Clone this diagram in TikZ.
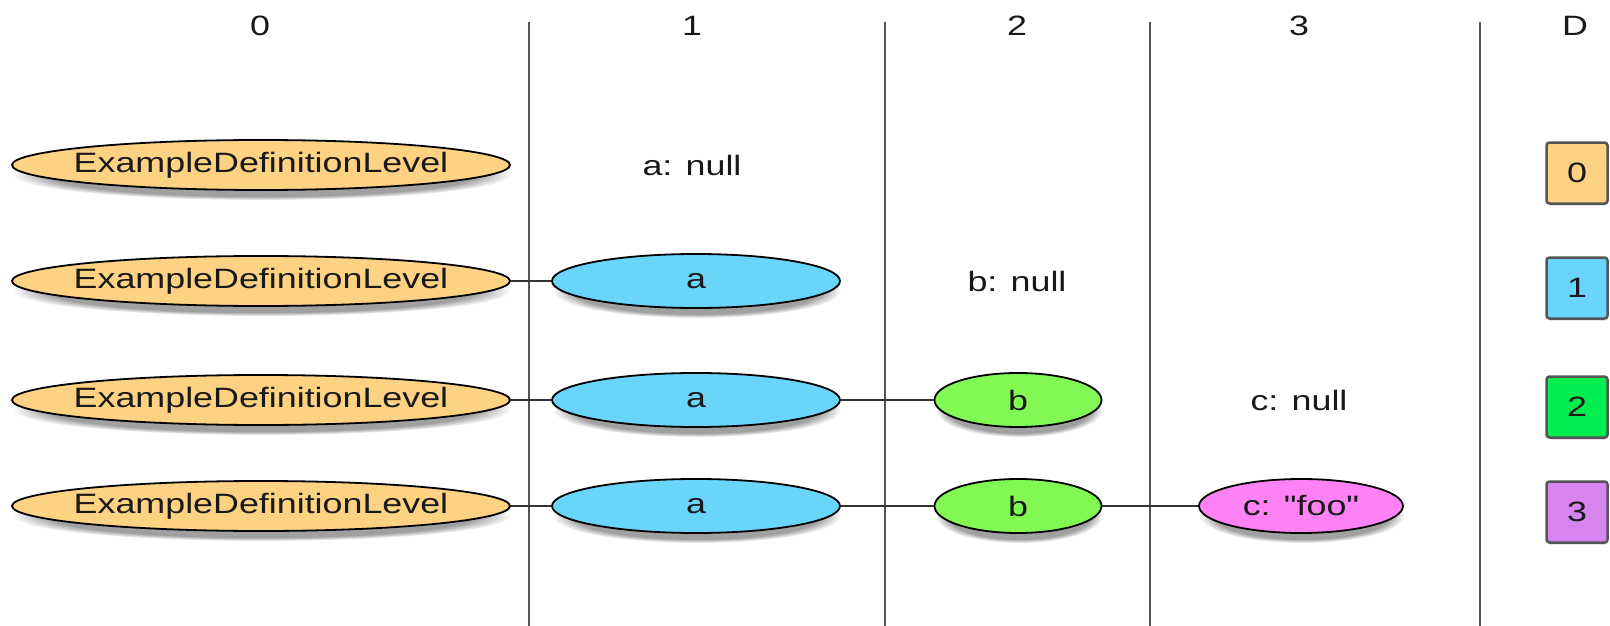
\documentclass[tikz,border=0pt]{standalone}
\usepackage{fontspec}
\setmainfont[FakeStretch=1.28,Ligatures=TeXOff]{Liberation Sans}
\usetikzlibrary{shapes.geometric,shadows,fadings}
\definecolor{orng}{HTML}{FDD283}
\definecolor{blu}{HTML}{6AD5FA}
\definecolor{grn}{HTML}{82F852}
\definecolor{pnk}{HTML}{FF82F4}
\definecolor{boxgrn}{HTML}{00EE50}
\definecolor{boxprp}{HTML}{D884F0}
\definecolor{divider}{HTML}{555555}
\definecolor{conn}{HTML}{333333}
\begin{document}
\begin{tikzpicture}[x=1pt,y=-1pt,
  every node/.style={font=\fontsize{28}{32}\selectfont, text=black!90},
  ell/.style={ellipse, draw=black, line width=1.8pt, inner sep=0pt, minimum height=54pt,
    circular drop shadow={shadow xshift=1pt, shadow yshift=-10pt, opacity=0.75, shadow scale=1.0}},
  oell/.style={ell, fill=orng, minimum width=498pt, minimum height=50pt},
  bell/.style={ell, fill=blu, minimum width=288pt},
  gell/.style={ell, fill=grn, minimum width=167pt},
  pell/.style={ell, fill=pnk, minimum width=204pt},
  dbox/.style={draw=divider, line width=2.5pt, rounded corners=3pt, minimum size=61pt, inner sep=0pt,
    drop shadow={shadow xshift=1pt, shadow yshift=-2pt, opacity=0.3}},
  divline/.style={draw=divider, line width=2.5pt},
  link/.style={draw=conn, line width=2pt}
]
\useasboundingbox (0,0) rectangle (1610,626);

% column dividers
\foreach \x/\n in {529/d1,885/d2,1150/d3,1480/d4}{
  \coordinate (\n t) at (\x,22);
  \coordinate (\n b) at (\x,626);
  \draw[divline] (\n t) -- (\n b);
}

% headers
\node (h0) at (260,26) {0};
\node (h1) at (692,26) {1};
\node (h2) at (1017,26) {2};
\node (h3) at (1299,26) {3};
\node (hD) at (1575,26) {D};

% nulls
\node (an) at (692,165) {a: null};
\node (bn) at (1017,281) {b: null};
\node (cn) at (1299,400) {c: null};

% ellipses
\node[oell] (e1) at (261,165) {\makebox[0pt]{ExampleDefinitionLevel}};
\node[oell] (e2) at (261,281) {\makebox[0pt]{ExampleDefinitionLevel}};
\node[oell] (e3) at (261,400) {\makebox[0pt]{ExampleDefinitionLevel}};
\node[oell] (e4) at (261,506) {\makebox[0pt]{ExampleDefinitionLevel}};
\node[bell] (a2) at (696,281) {\makebox[0pt]{a}};
\node[bell] (a3) at (696,400) {\makebox[0pt]{a}};
\node[bell] (a4) at (696,506) {\makebox[0pt]{a}};
\node[gell] (b3) at (1018,400) {\makebox[0pt]{b}};
\node[gell] (b4) at (1018,506) {\makebox[0pt]{b}};
\node[pell] (c4) at (1301,506) {\makebox[0pt]{c: "foo"}};

% connectors
\draw[link] (e2.east) -- (a2.west);
\draw[link] (e3.east) -- (a3.west);
\draw[link] (a3.east) -- (b3.west);
\draw[link] (e4.east) -- (a4.west);
\draw[link] (a4.east) -- (b4.west);
\draw[link] (b4.east) -- (c4.west);

% D boxes
\node[dbox, fill=orng] (k0) at (1577,173) {0};
\node[dbox, fill=blu] (k1) at (1577,288) {1};
\node[dbox, fill=boxgrn] (k2) at (1577,407) {2};
\node[dbox, fill=boxprp] (k3) at (1577,512) {3};
\end{tikzpicture}
\end{document}
